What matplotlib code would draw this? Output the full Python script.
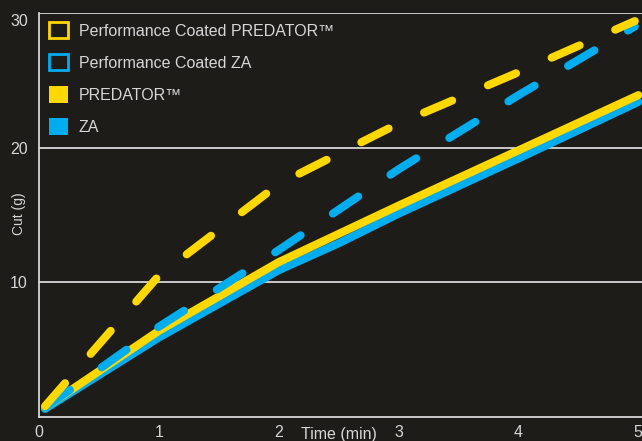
import matplotlib
matplotlib.use("Agg")
import matplotlib.pyplot as plt
from matplotlib.patches import Patch
from matplotlib.transforms import ScaledTranslation

plt.rcParams['lines.scale_dashes'] = False

# Data
time_pts = [0.05, 1, 2, 2.5, 3, 4, 5]
predator = [0.7, 6.4, 11.5, 13.6, 15.7, 19.8, 23.9]
za = [0.6, 5.9, 10.9, 12.9, 15.1, 19.2, 23.4]

time_coated = [0.05, 1, 2, 3, 4, 4.97]
coated_predator = [0.8, 10.5, 17.3, 21.8, 25.6, 29.4]
coated_za = [0.7, 6.7, 12.4, 18.4, 23.9, 29.0]

labels = ["Performance Coated PREDATOR\u2122", "Performance Coated ZA",
          "PREDATOR\u2122", "ZA"]
x_ticks = [0, 1, 2, 3, 4, 5]
y_ticks = [10, 20, 30]

YEL = "#FFD800"
BLU = "#00AEEF"
BG = "#1d1c19"
TXT = "#d6d6d6"
FONT = ["Liberation Sans", "DejaVu Sans"]

W, H = 642, 441
fig = plt.figure(figsize=(6.42, 4.41), dpi=100)
fig.patch.set_facecolor(BG)
ax = fig.add_axes([39 / W, 1 - 417 / H, 1 - 39 / W, (417 - 13) / H])
ax.set_facecolor(BG)
ax.set_xlim(0, 5.03)
ax.set_ylim(0, 30)

lw = 5.8
ax.plot(time_pts, za, color=BLU, lw=lw, solid_capstyle='round', solid_joinstyle='round', zorder=3)
ax.plot(time_pts, predator, color=YEL, lw=lw, solid_capstyle='round', solid_joinstyle='round', zorder=4)
ax.plot(time_coated, coated_za, color=BLU, lw=lw, dashes=(22, 28), dash_capstyle='round', zorder=5)
ax.plot(time_coated, coated_predator, color=YEL, lw=lw, dashes=(22, 28), dash_capstyle='round', zorder=6)

for y in y_ticks:
    ax.axhline(y, color=TXT, lw=1.3, zorder=2)

for s in ['top', 'right']:
    ax.spines[s].set_visible(False)
for s in ['left', 'bottom']:
    ax.spines[s].set_color(TXT)
    ax.spines[s].set_linewidth(1.3)

ax.set_xticks(x_ticks)
ax.set_yticks(y_ticks)
ax.tick_params(length=0, colors=TXT, labelsize=11.5)
ax.tick_params(axis='x', pad=6)
ax.tick_params(axis='y', pad=8)
for lab in ax.get_xticklabels() + ax.get_yticklabels():
    lab.set_family(FONT)
    lab.set_color(TXT)
# the top label sits a little below its gridline
ytl = ax.get_yticklabels()
ytl[-1].set_transform(ytl[-1].get_transform() + ScaledTranslation(0, -5 / 72, fig.dpi_scale_trans))
# the last x label hugs the right edge
xtl = ax.get_xticklabels()
xtl[-1].set_horizontalalignment('right')
xtl[-1].set_transform(xtl[-1].get_transform() + ScaledTranslation(3 / 72, 0, fig.dpi_scale_trans))

ax.text(2.5, -10 / 404, "Time (min)", transform=ax.get_xaxis_transform(),
        ha='center', va='top', color=TXT, fontsize=11.5, family=FONT)
fig.text(19 / W, 1 - 214 / H, "Cut (g)", rotation=90, ha='center', va='center',
         color=TXT, fontsize=10, family=FONT)

handles = [Patch(facecolor='none', edgecolor=YEL, lw=2),
           Patch(facecolor='none', edgecolor=BLU, lw=2),
           Patch(facecolor=YEL, edgecolor=YEL, lw=0),
           Patch(facecolor=BLU, edgecolor=BLU, lw=0)]
leg = ax.legend(handles, labels, loc='upper left',
                bbox_to_anchor=(10 / 603, 1 - 9 / 404),
                borderaxespad=0, borderpad=0,
                frameon=False, handlelength=1.2, handleheight=1.2,
                handletextpad=0.65, labelspacing=0.97,
                prop={'family': FONT, 'size': 11.5})
for t in leg.get_texts():
    t.set_color(TXT)

fig.savefig("out.png", dpi=100, facecolor=BG)
